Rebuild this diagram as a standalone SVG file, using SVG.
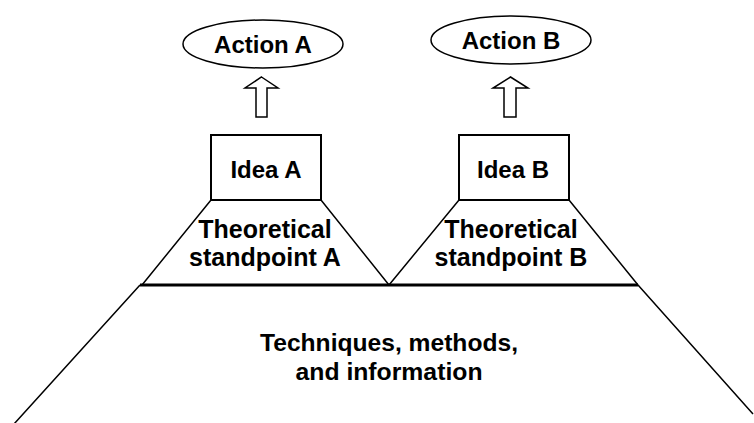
<svg xmlns="http://www.w3.org/2000/svg" width="754" height="423" viewBox="0 0 754 423">
<style>
.t{font-family:'Liberation Sans',Arimo,Arial,Helvetica,sans-serif;font-weight:700;font-size:24px;fill:#000;text-anchor:middle}
.l{font-size:25px}
.s{fill:none;stroke:#000;stroke-width:1.5}
.b{fill:#fff;stroke:#000;stroke-width:2}
</style>
<rect width="754" height="423" fill="#fff"/>
<g id="connectors">
<path class="s" d="M261.5,77 L278,88 L267,88 L267,117 L256,117 L256,88 L245,88 Z"/>
<path class="s" d="M510.5,77 L528,88 L516,88 L516,117 L504,117 L504,88 L493,88 Z"/>
</g>
<g id="base">
<path class="s" d="M140,285 L14,424 M638,285 L753,414"/>
<line x1="140" y1="285" x2="638" y2="285" stroke="#000" stroke-width="3"/>
<text class="t" x="389" y="351" textLength="258" lengthAdjust="spacingAndGlyphs">Techniques, methods,</text>
<text class="t" x="389" y="380" textLength="187" lengthAdjust="spacingAndGlyphs">and information</text>
</g>
<g id="standpointA">
<path class="s" d="M211,200 L142,285 M321,200 L389,285"/>
<text class="t l" x="265" y="238">Theoretical</text>
<text class="t l" x="265" y="266">standpoint A</text>
</g>
<g id="standpointB">
<path class="s" d="M459,200 L389,285 M569,200 L638,285"/>
<text class="t l" x="511" y="238">Theoretical</text>
<text class="t l" x="511" y="266">standpoint B</text>
</g>
<g id="ideaA">
<rect class="b" x="211" y="135" width="110" height="65"/>
<text class="t" x="266" y="178">Idea A</text>
</g>
<g id="ideaB">
<rect class="b" x="459" y="135" width="110" height="65"/>
<text class="t" x="513" y="178">Idea B</text>
</g>
<g id="actionA">
<ellipse class="s" cx="263" cy="44" rx="80" ry="24"/>
<text class="t" x="263" y="53">Action A</text>
</g>
<g id="actionB">
<ellipse class="s" cx="511" cy="40" rx="80" ry="24"/>
<text class="t" x="511" y="49">Action B</text>
</g>
</svg>
